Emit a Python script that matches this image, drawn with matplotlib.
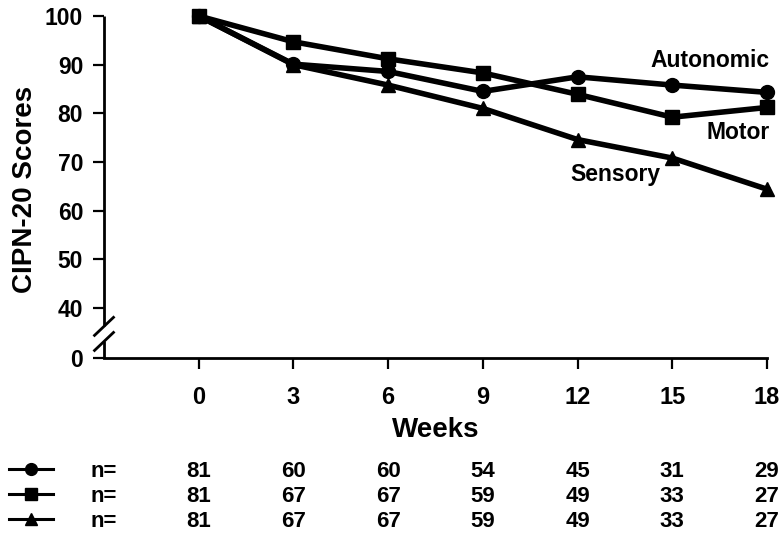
import matplotlib
matplotlib.use("Agg")
import matplotlib.pyplot as plt
import matplotlib.transforms as mtransforms
from matplotlib.lines import Line2D
from matplotlib import font_manager

weeks = [0, 3, 6, 9, 12, 15, 18]
autonomic = [100, 90.1, 88.6, 84.5, 87.5, 85.8, 84.3]
motor = [100, 94.7, 91.2, 88.3, 83.9, 79.2, 81.2]
sensory = [100, 90.0, 85.8, 81.0, 74.6, 70.8, 64.4]

n_autonomic = [81, 60, 60, 54, 45, 31, 29]
n_motor = [81, 67, 67, 59, 49, 33, 27]
n_sensory = [81, 67, 67, 59, 49, 33, 27]

ytick_values = [40, 50, 60, 70, 80, 90, 100]
zero_pos = 29.7  # position of the "0" tick below the axis break

plt.rcParams['font.family'] = ['Liberation Sans', 'DejaVu Sans']
plt.rcParams['font.weight'] = 'bold'

installed = {f.name for f in font_manager.fontManager.ttflist}
narrow = next((n for n in ['Liberation Sans Narrow', 'Arial Narrow', 'DejaVu Sans Condensed']
               if n in installed), 'Liberation Sans')
tfam = [narrow, 'Liberation Sans', 'DejaVu Sans']
tsize = 16.5 if narrow != 'Liberation Sans' else 16

fig = plt.figure(figsize=(7.83, 5.35), dpi=100)
ax = fig.add_axes([104/783, 1-358/535, 663/783, 342/535])

lw = 4
ax.plot(weeks, autonomic, color='black', lw=lw, marker='o', ms=10, clip_on=False, zorder=5)
ax.plot(weeks, motor, color='black', lw=lw, marker='s', ms=9.5, clip_on=False, zorder=5)
ax.plot(weeks, sensory, color='black', lw=lw, marker='^', ms=10, clip_on=False, zorder=5)

ax.set_xlim(-3, 18)
ax.set_ylim(zero_pos, 100)

ax.set_xticks(weeks)
ax.set_xticklabels([str(w) for w in weeks], fontsize=17, fontweight='bold')
ax.set_yticks([zero_pos] + ytick_values)
ax.set_yticklabels(['0'] + [str(v) for v in ytick_values], fontsize=16.5, fontweight='bold')

ax.tick_params(axis='x', direction='out', length=8, width=1.6, pad=12)
ax.tick_params(axis='y', direction='out', length=8, width=1.6, pad=7)

for s in ['top', 'right', 'left']:
    ax.spines[s].set_visible(False)
ax.spines['bottom'].set_linewidth(2)

# broken y-axis drawn manually
btrans = mtransforms.blended_transform_factory(ax.transAxes, ax.transData)
ax.plot([0, 0], [36.2, 100], color='black', lw=2, transform=btrans, clip_on=False, solid_capstyle='butt')
ax.plot([0, 0], [zero_pos, 33.1], color='black', lw=2, transform=btrans, clip_on=False, solid_capstyle='butt')
dx = 0.0143
ax.plot([-dx, dx], [34.35, 38.05], color='black', lw=2, transform=btrans, clip_on=False)
ax.plot([-dx, dx], [31.25, 34.95], color='black', lw=2, transform=btrans, clip_on=False)

# series labels
ax.text(16.2, 89.5, 'Autonomic', fontsize=16.5, fontweight='bold', ha='center', va='baseline')
ax.text(17.1, 74.8, 'Motor', fontsize=16.5, fontweight='bold', ha='center', va='baseline')
ax.text(13.2, 66.1, 'Sensory', fontsize=16.5, fontweight='bold', ha='center', va='baseline')

# axis labels
fig.text(25/783, 1-189/535, 'CIPN-20 Scores', rotation=90, fontsize=20, fontweight='bold',
         ha='center', va='center')
fig.text(435.5/783, (535-437)/535, 'Weeks', fontsize=20, fontweight='bold', ha='center', va='baseline')

# n table
ttrans = mtransforms.blended_transform_factory(ax.transData, fig.transFigure)
rows = [(n_autonomic, 'o', 0.1084), (n_motor, 's', 0.0617), (n_sensory, '^', 0.01495)]
for vals, mk, yb in rows:
    for w, v in zip(weeks, vals):
        fig.text(w, yb, str(v), transform=ttrans, fontsize=tsize, fontweight='bold',
                 family=tfam, ha='center', va='baseline')
    fig.text(103.5/783, yb, 'n=', fontsize=tsize, fontweight='bold', family=tfam,
             ha='center', va='baseline')
    ymid = yb + 8/535
    fig.add_artist(Line2D([9/783, 53/783], [ymid, ymid], color='black', lw=2.2,
                          transform=fig.transFigure))
    fig.add_artist(Line2D([31/783], [ymid], color='black', marker=mk, ms=8.5,
                          transform=fig.transFigure, lw=0))

fig.savefig('out.png', dpi=100)
